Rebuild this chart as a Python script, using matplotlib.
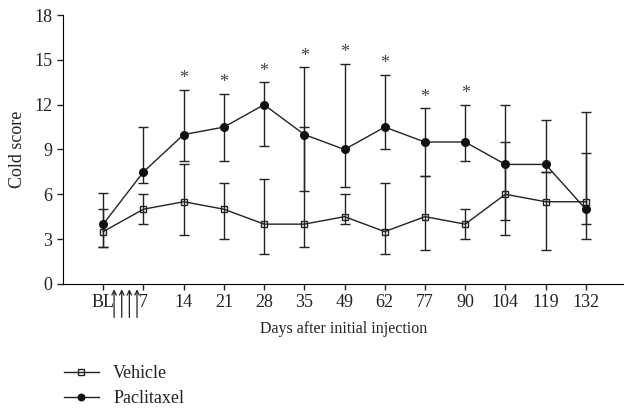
import numpy as np
import matplotlib
matplotlib.use('Agg')
from matplotlib import pyplot as plt
from matplotlib import transforms

days = ['BL', '7', '14', '21', '28', '35', '49', '62', '77', '90', '104', '119', '132']

vehicle = [3.5, 5.0, 5.5, 5.0, 4.0, 4.0, 4.5, 3.5, 4.5, 4.0, 6.0, 5.5, 5.5]
vehicle_hi = [5.0, 6.0, 8.0, 6.75, 7.0, 10.5, 6.0, 6.75, 7.25, 5.0, 9.5, 7.5, 11.5]
vehicle_lo = [2.5, 4.0, 3.25, 3.0, 2.0, 2.5, 4.0, 2.0, 2.25, 3.0, 3.25, 2.25, 4.0]

paclitaxel = [4.0, 7.5, 10.0, 10.5, 12.0, 10.0, 9.0, 10.5, 9.5, 9.5, 8.0, 8.0, 5.0]
paclitaxel_hi = [6.1, 10.5, 13.0, 12.75, 13.5, 14.5, 14.75, 14.0, 11.75, 12.0, 12.0, 11.0, 8.75]
paclitaxel_lo = [2.5, 6.75, 8.25, 8.25, 9.25, 6.25, 6.5, 9.0, 7.25, 8.25, 4.25, 7.5, 3.0]

# 显著性标记
signif = [0, 0, 1, 1, 1, 1, 1, 1, 1, 1, 0, 0, 0]
# 注射箭头 (BL 与 7 之间)
arrow_x = [0.27, 0.46, 0.65, 0.84]

plt.rcParams['font.family'] = ['Liberation Serif', 'DejaVu Serif']
plt.rcParams['font.size'] = 12

fig = plt.figure(figsize=(6.24, 4.09), dpi=100)
ax = fig.add_axes([0.101, 0.306, 0.899, 0.657])

x = np.arange(len(days))
v = np.array(vehicle)
p = np.array(paclitaxel)
v_err = [v - np.array(vehicle_lo), np.array(vehicle_hi) - v]
p_err = [p - np.array(paclitaxel_lo), np.array(paclitaxel_hi) - p]

ax.errorbar(x, v, yerr=v_err, fmt='none', ecolor='#222222', elinewidth=1, capsize=3.5, capthick=1)
ax.errorbar(x, p, yerr=p_err, fmt='none', ecolor='#222222', elinewidth=1, capsize=3.5, capthick=1)
ax.plot(x, v, color='#222222', lw=1, marker='s', ms=5, mfc='none', mec='#222222', mew=1, label='Vehicle', zorder=3)
ax.plot(x, p, color='#222222', lw=1, marker='o', ms=5.5, mfc='#111111', mec='#111111', label='Paclitaxel', zorder=3)

for i in range(len(days)):
    if signif[i]:
        ax.annotate('*', (x[i], paclitaxel_hi[i]), xytext=(0, 2), textcoords='offset points',
                    ha='center', va='bottom', fontsize=13, color='#444444')

trans = transforms.blended_transform_factory(ax.transData, ax.transAxes)
for ax_x in arrow_x:
    ax.annotate('', xy=(ax_x, -0.02), xytext=(ax_x, -0.125), xycoords=trans, textcoords=trans,
                arrowprops=dict(arrowstyle='->', lw=0.9, color='#222222', shrinkA=0, shrinkB=0,
                                mutation_scale=8))

ax.set_xlim(-1, 12.95)
ax.set_ylim(0, 18)
ax.set_yticks(np.arange(0, 19, 3))
ax.set_xticks(x)
ax.set_xticklabels(days)
ax.spines['top'].set_visible(False)
ax.spines['right'].set_visible(False)
ax.tick_params(direction='out', length=4, width=1, colors='#222222', labelcolor='#222222', labelsize=13)
ax.set_xlabel('Days after initial injection', color='#222222', labelpad=7, fontsize=11.5)
ax.set_ylabel('Cold score', color='#222222', labelpad=6, fontsize=13)

leg = fig.legend(loc='lower left', bbox_to_anchor=(0.077, -0.035), frameon=False, handlelength=1.9,
                 labelspacing=0.42, labelcolor='#222222', fontsize=13, markerscale=0.85)

fig.savefig('out.png', dpi=100)
plt.close()
